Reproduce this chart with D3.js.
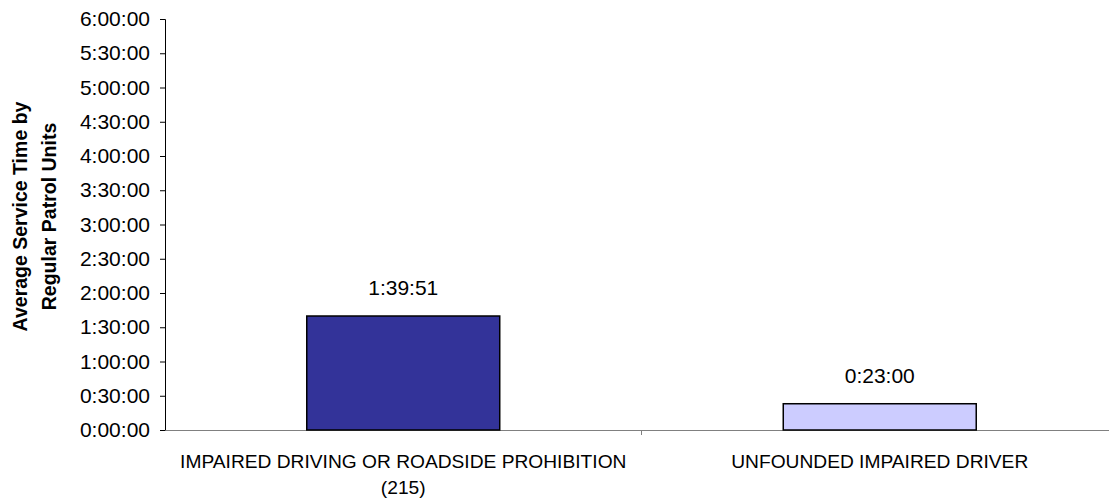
<!DOCTYPE html>
<html>
<head>
<meta charset="utf-8">
<script src="https://cdn.jsdelivr.net/npm/d3@7"></script>
<style>
  html, body { margin: 0; padding: 0; background: #fff; }
  svg { display: block; font-family: "Liberation Sans", Arial, sans-serif; }
</style>
</head>
<body>
<svg id="chart" width="1109" height="504"></svg>
<script>
// ---- data ----
const categories = ["IMPAIRED DRIVING OR ROADSIDE PROHIBITION (215)", "UNFOUNDED IMPAIRED DRIVER"];
const valuesSeconds = [5991, 1380];          // 1:39:51, 0:23:00
const barColors = ["#333399", "#CCCCFF"];
const yTickValues = [0, 1800, 3600, 5400, 7200, 9000, 10800, 12600, 14400, 16200, 18000, 19800, 21600];
const yTitleLines = ["Average Service Time by", "Regular Patrol Units"];

function fmt(s) {
  const h = Math.floor(s / 3600), m = Math.floor((s % 3600) / 60), sec = s % 60;
  return h + ":" + String(m).padStart(2, "0") + ":" + String(sec).padStart(2, "0");
}

const svg = d3.select("#chart");
const mLeft = 165, mRight = 1118, mTop = 19, mBottom = 430;

const x = d3.scaleBand().domain(categories).range([mLeft, mRight]).padding(0);
const y = d3.scaleLinear().domain([0, 21600]).range([mBottom, mTop]);

// y axis
const yAxis = svg.append("g").attr("transform", `translate(${mLeft},0)`)
  .call(d3.axisLeft(y).tickValues(yTickValues).tickFormat(fmt).tickSize(5).tickPadding(10));
yAxis.select(".domain").attr("stroke", "#000").attr("stroke-width", 1);
yAxis.selectAll(".tick line").attr("stroke", "#000");
yAxis.selectAll("text").attr("font-size", 21).attr("fill", "#000")
  .attr("font-family", "Liberation Sans, Arial, sans-serif");

// x axis
const xAxis = svg.append("g").attr("transform", `translate(0,${mBottom})`)
  .call(d3.axisBottom(x).tickSize(0).tickFormat(""));
xAxis.select(".domain").attr("stroke", "#808080").attr("stroke-width", 1.2);
// tick marks at band boundaries
const boundaries = categories.map(c => x(c)).concat([x(categories[categories.length - 1]) + x.bandwidth()]);
svg.selectAll(".xb").data(boundaries.slice(1, -1)).enter().append("line")
  .attr("x1", d => d).attr("x2", d => d).attr("y1", mBottom).attr("y2", mBottom + 5)
  .attr("stroke", "#808080");

// bars
const bw = x.bandwidth() * 0.405;
svg.selectAll(".bar").data(categories).enter().append("rect")
  .attr("x", d => x(d) + x.bandwidth() / 2 - bw / 2)
  .attr("y", (d, i) => y(valuesSeconds[i]))
  .attr("width", bw)
  .attr("height", (d, i) => mBottom - y(valuesSeconds[i]))
  .attr("fill", (d, i) => barColors[i])
  .attr("stroke", "#000").attr("stroke-width", 1.5);

// value labels
svg.selectAll(".val").data(categories).enter().append("text")
  .attr("x", d => x(d) + x.bandwidth() / 2)
  .attr("y", (d, i) => y(valuesSeconds[i]) - 21)
  .attr("text-anchor", "middle").attr("font-size", 21).attr("fill", "#000")
  .text((d, i) => fmt(valuesSeconds[i]));

// category labels with wrapping
categories.forEach(c => {
  const cx = x(c) + x.bandwidth() / 2;
  const t = svg.append("text").attr("text-anchor", "middle").attr("font-size", 19.2).attr("fill", "#000")
    .attr("x", cx).attr("y", 468);
  const words = c.split(" ");
  let line = [];
  let ts = t.append("tspan").attr("x", cx).attr("dy", 0);
  words.forEach(w => {
    line.push(w);
    ts.text(line.join(" "));
    if (ts.node().getComputedTextLength() > x.bandwidth() - 20 && line.length > 1) {
      line.pop();
      ts.text(line.join(" "));
      line = [w];
      ts = t.append("tspan").attr("x", cx).attr("dy", 26).text(w);
    }
  });
});

// y title
const titleG = svg.append("g").attr("transform", `translate(0,${(mTop + mBottom) / 2 - 8}) rotate(-90)`);
titleG.selectAll("text").data(yTitleLines).enter().append("text")
  .attr("x", 0).attr("y", (d, i) => 27 + i * 29)
  .attr("text-anchor", "middle").attr("font-size", 19.5).attr("font-weight", "bold").attr("fill", "#000")
  .text(d => d);
</script>
</body>
</html>
